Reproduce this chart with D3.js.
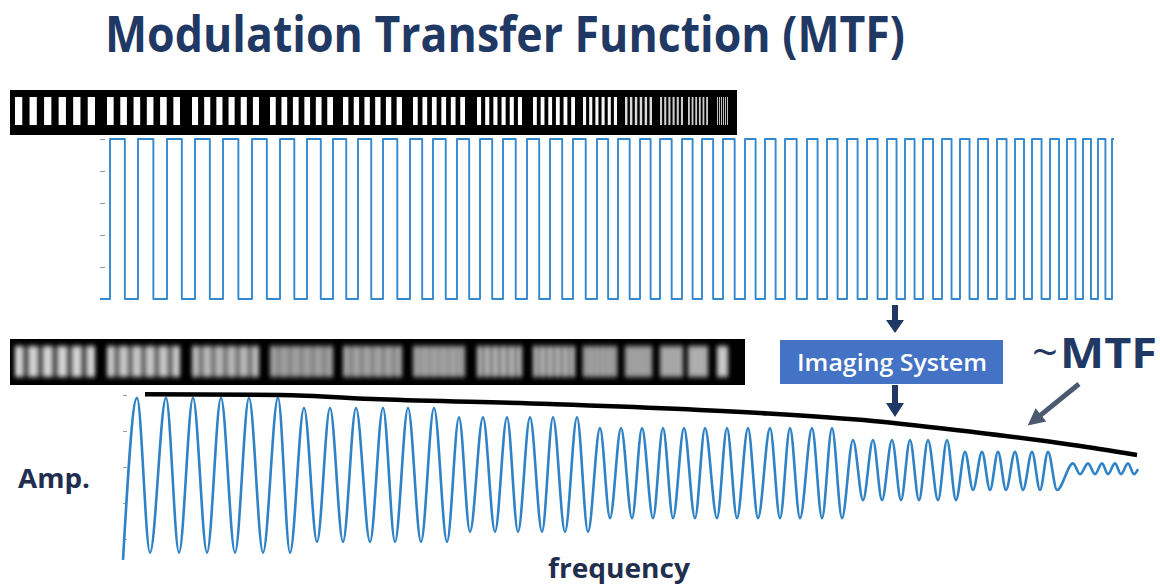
<!DOCTYPE html>
<html>
<head>
<meta charset="utf-8">
<script src="https://d3js.org/d3.v7.min.js"></script>
<style>
    body { margin: 0; background: #fff; }
    text { font-family: "Open Sans", sans-serif; }
</style>
</head>
<body>
<script>
    // ---- data ----
    // square wave (input target): positions where each pulse rises
    var squareRises = [10, 38, 67, 95, 123, 152, 180, 207, 233, 258, 283, 310, 333, 357, 380, 403,
        427, 450, 473, 497, 518, 540, 560, 582, 602, 623, 645, 665, 685, 707, 727, 747, 767, 787,
        805, 823, 842, 860, 878, 897, 915, 932, 950, 967, 983, 998, 1012];
    var squareDuty = 0.53;
    var squareTicks = [0, 0.2, 0.4, 0.6, 0.8, 1];

    // imaged signal: peaks / troughs per group and the levels they reach
    var groupPeaks = [
        [37, 66, 93, 121, 149, 178],
        [204, 230, 256, 283, 308, 334],
        [359, 383, 407, 430, 453, 477],
        [500, 521, 542, 563, 584, 605, 627, 648, 670, 690, 712, 732],
        [753, 773, 792, 810, 828, 847],
        [865, 882, 898, 915, 932, 948],
        [973, 988, 1002, 1015, 1028]
    ];
    var groupTroughs = [
        [50, 79, 107, 135, 163, 190],
        [217, 243, 270, 295, 321, 347],
        [370, 395, 418, 442, 465, 488],
        [510, 532, 553, 573, 595, 617, 637, 658, 680, 700, 722, 742],
        [763, 782, 801, 819, 838, 856],
        [873, 890, 906, 923, 940, 957],
        [980, 995, 1008, 1021, 1034]
    ];
    var groupTop = [0.96, 0.82, 0.69, 0.54, 0.375, 0.21, 0.05];
    var groupBottom = [-1.19, -1.04, -0.90, -0.71, -0.46, -0.32, -0.10];
    var ampStart = {x: 23, v: -1.29};
    var ampEnd = {x: 1038, v: -0.03};
    var ampTicks = [-1, -0.5, 0, 0.5, 1];

    // MTF envelope
    var mtfX = [45, 180, 280, 450, 660, 773, 873, 973, 1037];
    var mtfV = [1.01, 1.0, 0.94, 0.875, 0.75, 0.64, 0.486, 0.306, 0.167];

    // bar target groups (6 bars each), extent along the strip
    var barGroups = [[5, 85], [97, 170], [182, 249], [260, 323], [333, 392], [403, 455], [467, 512],
        [523, 565], [573, 607], [615, 642], [650, 673], [678, 698], [707, 718]];
    var barTone = [1, 1, 1, 1, 1, 1, 1, 1, 0.97, 0.85, 0.8, 0.8, 0.75];
    var blurLo = [0.33, 0.42, 0.47, 0.53, 0.52, 0.58, 0.45, 0.45, 0.5, 0.56, 0.6, 0.64, 0.7];
    var blurHi = [0.85, 0.8, 0.74, 0.64, 0.66, 0.64, 0.74, 0.74, 0.7, 0.68, 0.7, 0.72, 0.85];
    var barsPerGroup = 6;
    var topStripEnd = 727, bottomStripEnd = 735;

    // ---- chart ----
    var W = 1160, H = 586;
    var svg = d3.select("body").append("svg").attr("width", W).attr("height", H);

    var x = d3.scaleLinear().domain([0, 1040]).range([100, 1140]);
    var ySq = d3.scaleLinear().domain([0, 1]).range([299, 139]);
    var yAmp = d3.scaleLinear().domain([-1, 1]).range([539, 395]);
    var sx = d3.scaleLinear().domain([0, 735]).range([10, 745]);

    var blue = "#3389cf", navy = "#1f3864", dark = "#222e4e";

    var defs = svg.append("defs");
    defs.append("filter").attr("id", "blur")
        .attr("x", "-20%").attr("y", "-40%").attr("width", "140%").attr("height", "180%")
        .append("feGaussianBlur").attr("stdDeviation", "2 2.6");

    // top bar target
    svg.append("rect").attr("x", sx(0)).attr("y", 90)
        .attr("width", sx(topStripEnd) - sx(0)).attr("height", 45).attr("fill", "#000");

    function bars() {
        var out = [];
        barGroups.forEach(function(b, gi) {
            var p = (b[1] - b[0]) / (barsPerGroup - 0.5);
            for (var k = 0; k < barsPerGroup; k++) {
                out.push({g: gi, x0: b[0] + k * p, x1: b[0] + k * p + p / 2});
            }
        });
        return out;
    }

    svg.append("g").selectAll("rect").data(bars()).enter().append("rect")
        .attr("x", function(d) { return sx(d.x0); })
        .attr("y", 97)
        .attr("width", function(d) { return sx(d.x1) - sx(d.x0); })
        .attr("height", 28)
        .attr("fill", "#fff")
        .attr("fill-opacity", function(d) { return barTone[d.g]; });

    // blurred (imaged) bar target
    svg.append("rect").attr("x", sx(0)).attr("y", 339)
        .attr("width", sx(bottomStripEnd) - sx(0)).attr("height", 46).attr("fill", "#000");

    var gray = function(v) { return d3.rgb(v * 255, v * 255, v * 255).toString(); };
    var bg = svg.append("g").attr("filter", "url(#blur)");
    bg.selectAll("rect.lo").data(barGroups).enter().append("rect")
        .attr("class", "lo")
        .attr("x", function(d) { return sx(d[0]); })
        .attr("y", 346)
        .attr("width", function(d) { return sx(d[1]) - sx(d[0]); })
        .attr("height", 31)
        .attr("fill", function(d, i) { return gray(blurLo[i]); });
    bg.selectAll("rect.hi").data(bars()).enter().append("rect")
        .attr("class", "hi")
        .attr("x", function(d) { return sx(d.x0); })
        .attr("y", 346)
        .attr("width", function(d) { return sx(d.x1) - sx(d.x0); })
        .attr("height", 31)
        .attr("fill", function(d) { return gray(blurHi[d.g]); });

    // axes (tick marks only, inside)
    var axSq = svg.append("g").attr("transform", "translate(" + x(0) + ",0)")
        .call(d3.axisLeft(ySq).tickValues(squareTicks).tickSize(-5).tickFormat(""));
    var axAmp = svg.append("g").attr("transform", "translate(" + x(ampStart.x) + ",0)")
        .call(d3.axisLeft(yAmp).tickValues(ampTicks).tickSize(-4).tickFormat(""));
    [axSq, axAmp].forEach(function(a) {
        a.select(".domain").remove();
        a.selectAll(".tick line").attr("stroke", "#9a9a9a");
    });

    // square wave
    var sq = [[0, 0]];
    squareRises.forEach(function(r, i) {
        sq.push([r, 0], [r, 1]);
        if (i < squareRises.length - 1) {
            var f = r + squareDuty * (squareRises[i + 1] - r);
            sq.push([f, 1], [f, 0]);
        } else {
            sq.push([r + 2, 1]);
        }
    });
    svg.append("path")
        .attr("d", d3.line().x(function(d) { return x(d[0]); }).y(function(d) { return ySq(d[1]); })(sq))
        .attr("fill", "none").attr("stroke", blue).attr("stroke-width", 1.9)
        .attr("stroke-linejoin", "round");

    // imaged signal
    var amp = [[ampStart.x, ampStart.v]];
    groupPeaks.forEach(function(pk, gi) {
        pk.forEach(function(p, k) {
            amp.push([p, groupTop[gi]]);
            amp.push([groupTroughs[gi][k], groupBottom[gi]]);
        });
    });
    amp.push([ampEnd.x, ampEnd.v]);
    svg.append("path")
        .attr("d", d3.line().curve(d3.curveMonotoneX)
            .x(function(d) { return x(d[0]); }).y(function(d) { return yAmp(d[1]); })(amp))
        .attr("fill", "none").attr("stroke", "#2f82c6").attr("stroke-width", 2.6);

    // MTF envelope
    svg.append("path")
        .attr("d", d3.line().curve(d3.curveMonotoneX)
            .x(function(d) { return x(d); }).y(function(d, i) { return yAmp(mtfV[i]); })(mtfX))
        .attr("fill", "none").attr("stroke", "#000").attr("stroke-width", 4.5);

    // arrows
    function arrowPath(len, shaft, head, headLen) {
        return "M0," + (-shaft / 2) + "L" + (len - headLen) + "," + (-shaft / 2) +
            "L" + (len - headLen) + "," + (-head / 2) + "L" + len + ",0L" + (len - headLen) + "," + (head / 2) +
            "L" + (len - headLen) + "," + (shaft / 2) + "L0," + (shaft / 2) + "Z";
    }
    svg.append("path").attr("d", arrowPath(28, 6, 18, 13))
        .attr("transform", "translate(895,305) rotate(90)").attr("fill", navy);
    svg.append("path").attr("d", arrowPath(32, 6, 18, 14))
        .attr("transform", "translate(895,385) rotate(90)").attr("fill", navy);
    svg.append("path").attr("d", arrowPath(66, 5, 17, 17))
        .attr("transform", "translate(1079,384) rotate(141)").attr("fill", "#4b5a70");

    // Imaging System box
    svg.append("rect").attr("x", 780).attr("y", 340).attr("width", 223).attr("height", 44)
        .attr("fill", "#4472c4");
    svg.append("text").attr("x", 892).attr("y", 371).attr("text-anchor", "middle")
        .attr("font-size", 23).attr("font-weight", 600).attr("fill", "#fff")
        .attr("textLength", 190).attr("lengthAdjust", "spacingAndGlyphs")
        .text("Imaging System");

    // ~MTF
    svg.append("text").attr("x", 1032).attr("y", 368).attr("font-size", 44)
        .attr("fill", navy).attr("textLength", 26).attr("lengthAdjust", "spacingAndGlyphs").text("~");
    svg.append("text").attr("x", 1060).attr("y", 368).attr("font-size", 41).attr("font-weight", 700)
        .attr("fill", navy).attr("textLength", 97).attr("lengthAdjust", "spacingAndGlyphs").text("MTF");

    // title and axis labels
    svg.append("text").attr("x", 105).attr("y", 52).attr("font-size", 50).attr("font-weight", 700)
        .attr("fill", navy).attr("textLength", 800).attr("lengthAdjust", "spacingAndGlyphs")
        .text("Modulation Transfer Function (MTF)");
    svg.append("text").attr("x", 18).attr("y", 488).attr("font-size", 27).attr("font-weight", 700)
        .attr("fill", dark).attr("textLength", 72).attr("lengthAdjust", "spacingAndGlyphs")
        .text("Amp.");
    svg.append("text").attr("x", 548).attr("y", 578).attr("font-size", 26).attr("font-weight", 700)
        .attr("fill", dark).attr("textLength", 142).attr("lengthAdjust", "spacingAndGlyphs")
        .text("frequency");
</script>
</body>
</html>
